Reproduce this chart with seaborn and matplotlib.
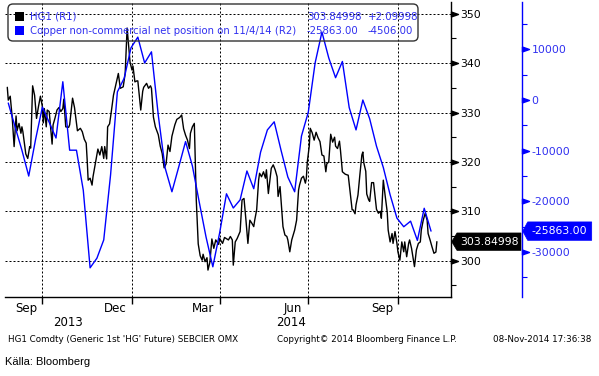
import numpy as np
import pandas as pd
import matplotlib
matplotlib.use("Agg")
import matplotlib.pyplot as plt
import matplotlib.dates as mdates
import seaborn as sns
from matplotlib.path import Path
from matplotlib.markers import MarkerStyle
from matplotlib.patches import FancyBboxPatch, Polygon, Rectangle
from matplotlib.ticker import FixedLocator, FixedFormatter, NullFormatter
from matplotlib.transforms import blended_transform_factory, ScaledTranslation

sns.set_theme(style="white")
plt.rcParams["font.family"] = ["DejaVu Sans"]
plt.rcParams["axes.unicode_minus"] = False

# ---------------- data ----------------
hg1_start = "2013-08-26"
hg1_day = [0, 1, 3, 5, 7, 9, 10, 12, 14, 15,
           16, 19, 21, 23, 24, 26, 28, 30, 32, 34,
           36, 37, 38, 40, 41, 43, 46, 47, 49, 51,
           53, 55, 57, 58, 60, 63, 64, 67, 69, 72,
           75, 77, 79, 81, 82, 83, 85, 87, 88, 92,
           93, 95, 97, 99, 100, 102, 103, 105, 107, 109,
           112, 114, 116, 119, 121, 123, 126, 128, 129, 131,
           133, 134, 137, 139, 140, 143, 145, 147, 148, 150,
           152, 155, 157, 159, 161, 163, 165, 167, 169, 172,
           174, 177, 179, 181, 183, 185, 187, 188, 190, 192,
           193, 194, 196, 198, 200, 201, 203, 205, 206, 208,
           210, 212, 214, 217, 218, 221, 223, 227, 229, 231,
           232, 234, 236, 239, 241, 243, 245, 247, 249, 251,
           253, 254, 256, 258, 259, 261, 263, 265, 266, 268,
           270, 271, 273, 275, 277, 278, 280, 282, 283, 285,
           287, 288, 290, 292, 294, 295, 297, 299, 300, 302,
           304, 306, 307, 308, 310, 311, 313, 315, 317, 319,
           321, 323, 325, 327, 328, 330, 332, 334, 336, 337,
           339, 341, 342, 344, 347, 350, 352, 354, 355, 357,
           358, 360, 362, 364, 365, 366, 368, 369, 371, 372,
           374, 376, 379, 381, 383, 384, 386, 388, 390, 391,
           393, 395, 396, 398, 400, 401, 403, 405, 407, 408,
           410, 412, 413, 415, 417, 418, 420, 422, 424, 425,
           427, 429, 431, 432, 434, 436, 438, 440, 441]
hg1_price = [335.1, 332.5, 333.3, 329.1, 323.1, 329.3, 326.3, 327.8, 325.8, 327.1,
             326.1, 321.6, 320.7, 323.1, 322.8, 335.4, 333.5, 328.8, 331.2, 333.3,
             331.2, 327.9, 330.8, 327.1, 330.5, 330.2, 323.6, 327.5, 328.9, 330.5,
             331.0, 330.2, 330.8, 332.7, 327.1, 327.0, 327.5, 332.9, 331.0, 326.3,
             326.8, 326.1, 324.6, 323.8, 320.4, 316.3, 316.7, 315.3, 317.0, 321.4,
             322.6, 321.4, 323.1, 320.7, 323.1, 320.6, 327.1, 327.7, 330.5, 333.5,
             336.2, 337.9, 334.9, 335.2, 337.9, 347.1, 340.2, 338.6, 339.4, 336.2,
             336.4, 336.4, 330.5, 334.3, 335.1, 335.9, 334.9, 335.4, 334.9, 329.1,
             327.1, 325.5, 323.2, 321.7, 318.8, 319.6, 323.4, 322.1, 325.2, 327.5,
             328.6, 329.0, 329.5, 326.7, 325.4, 324.4, 322.7, 325.8, 327.1, 327.8,
             320.0, 312.3, 303.4, 301.0, 300.1, 301.3, 299.8, 300.6, 298.1, 299.7,
             304.4, 302.5, 304.2, 303.3, 304.5, 303.5, 304.7, 304.2, 304.9, 304.2,
             299.1, 303.8, 304.5, 305.9, 312.3, 312.6, 308.2, 303.5, 308.2, 307.6,
             306.9, 308.2, 310.3, 316.3, 317.7, 317.0, 318.0, 316.7, 318.4, 313.6,
             317.0, 318.7, 319.4, 318.4, 317.0, 313.0, 315.0, 309.6, 306.9, 305.2,
             304.9, 304.2, 301.8, 304.2, 305.5, 306.2, 308.2, 314.3, 315.3, 316.7,
             317.1, 315.7, 316.7, 320.0, 323.2, 326.8, 325.9, 324.4, 326.0, 324.9,
             324.1, 321.4, 321.2, 318.0, 319.6, 320.0, 325.6, 324.0, 325.0, 323.2,
             322.7, 324.2, 322.4, 318.0, 317.5, 317.3, 313.7, 310.3, 310.3, 309.5,
             311.3, 313.3, 317.5, 321.4, 322.0, 319.8, 318.1, 313.5, 312.3, 312.0,
             315.8, 315.8, 310.4, 309.6, 310.0, 308.6, 316.3, 313.0, 309.9, 306.2,
             303.8, 305.5, 303.5, 305.9, 303.5, 301.8, 300.1, 303.8, 301.8, 303.8,
             300.8, 303.5, 304.2, 302.5, 300.1, 298.8, 302.2, 303.5, 303.8, 306.2,
             308.2, 309.6, 308.2, 305.5, 304.2, 302.8, 301.5, 301.75, 303.84998]

cot_start = "2013-08-27"   # weekly (Tuesdays)
cot_net = [-600, -5300, -9900, -15000, -7800, -1400, -4400, -7500, 3600, -9900,
           -9900, -17800, -33100, -31200, -27600, -14800, 1600, 4300, 10300, 12400,
           7300, 9500, -3000, -13400, -18100, -13200, -8200, -13000, -20100, -27000,
           -32900, -26200, -18500, -21300, -19700, -14000, -17500, -10300, -5900, -4300,
           -9900, -15200, -18100, -7100, -2400, 7300, 13400, 8300, 4400, 7600,
           -1500, -5900, 0, -3700, -9100, -13300, -18700, -23300, -25000, -23900,
           -27700, -21357, -25863]

price_ticks = [300, 310, 320, 330, 340, 350]
price_minor = [295, 305, 315, 325, 335, 345]
net_ticks = [-30000, -20000, -10000, 0, 10000]
net_minor = [-35000, -25000, -15000, -5000, 5000, 15000]
quarter_ticks = ["2013-10-01", "2014-01-01", "2014-04-01", "2014-07-01", "2014-10-01"]
month_pos = ["2013-09-15", "2013-12-15", "2014-03-15", "2014-06-15", "2014-09-15"]
month_labels = ["Sep", "Dec", "Mar", "Jun", "Sep"]
year_labels = ["2013", "2014"]

legend_names = ["HG1 (R1)", "Copper non-commercial net position on 11/4/14 (R2)"]
legend_last = ["303.84998", "-25863.00"]
legend_chg = ["+2.09998", "-4506.00"]
tag_labels = ["303.84998", "-25863.00"]

# ---------------- frames ----------------
start = pd.Timestamp(hg1_start)
hg1 = pd.DataFrame({"date": start + pd.to_timedelta(hg1_day, unit="D"),
                    "price": hg1_price})
cot = pd.DataFrame({"date": pd.date_range(cot_start, periods=len(cot_net), freq="7D"),
                    "net": cot_net})

W, H = 599, 376
fig = plt.figure(figsize=(W / 100, H / 100), dpi=100)
fig.patch.set_facecolor("white")
Lp, Rp, Tp, Bp = 5, 451, 2, 296.7
ax = fig.add_axes([Lp / W, 1 - Bp / H, (Rp - Lp) / W, (Bp - Tp) / H])
ax2 = ax.twinx()

BLUE = "#0000ff"
TXTBLUE = "#3030f0"

sns.lineplot(data=hg1, x="date", y="price", ax=ax, color="black", lw=1.0)
sns.lineplot(data=cot, x="date", y="net", ax=ax2, color=BLUE, lw=1.0)

x0 = mdates.date2num(start)
ax.set_xlim(x0 - 2.36, x0 + 455.5)
ax.set_ylim(292.71, 352.37)
ax2.set_ylim(-38797, 19329)
for a in (ax, ax2):
    a.set_xlabel("")
    a.set_ylabel("")

# spines
ax.spines["left"].set_visible(False)
ax.spines["top"].set_visible(False)
ax.spines["bottom"].set_color("black")
ax.spines["right"].set_color("black")
ax.spines["bottom"].set_linewidth(1.0)
ax.spines["right"].set_linewidth(1.0)
for s in ("left", "top", "bottom"):
    ax2.spines[s].set_visible(False)
blue_ax_x = (521.7 - Lp) / (Rp - Lp)
ax2.spines["right"].set_position(("axes", blue_ax_x))
ax2.spines["right"].set_color(BLUE)
ax2.spines["right"].set_linewidth(1.0)

# price axis
ax.yaxis.tick_right()
ax.set_yticks(price_ticks)
ax.set_yticks(price_minor, minor=True)
ax.tick_params(axis="y", which="major", length=0, pad=6.5, labelsize=7.8,
               labelcolor="black", left=False, right=True)
ax.tick_params(axis="y", which="minor", length=3.5, width=0.8, color="black",
               direction="out", left=False, right=True)

# net position axis
ax2.set_yticks(net_ticks)
ax2.set_yticks(net_minor, minor=True)
ax2.tick_params(axis="y", which="major", length=0, pad=7.2, labelsize=7.8,
                labelcolor=TXTBLUE)
ax2.tick_params(axis="y", which="minor", length=3.5, width=0.8, color=BLUE,
                direction="out")

# x axis
ax.xaxis.set_major_locator(FixedLocator(mdates.date2num(pd.to_datetime(quarter_ticks))))
ax.xaxis.set_major_formatter(NullFormatter())
ax.xaxis.set_minor_locator(FixedLocator(mdates.date2num(pd.to_datetime(month_pos))))
ax.xaxis.set_minor_formatter(FixedFormatter(month_labels))
ax.tick_params(axis="x", which="major", length=5, width=1.0, color="black",
               direction="out", bottom=True)
ax.tick_params(axis="x", which="minor", length=0, pad=3.5, labelsize=8.5,
               labelcolor="black", bottom=True)

# grid
ax.grid(True, which="major", axis="both", color="black", lw=0.72,
        linestyle=(0, (2, 2)))
ax2.grid(False)

# year labels centred over visible part of each year
lo, hi = ax.get_xlim()
ny = mdates.date2num(pd.Timestamp("2014-01-01"))
ytr = blended_transform_factory(ax.transData, ax.transAxes)
yy = -(323 - Bp) / (Bp - Tp)
ax.text((lo + ny) / 2, yy, year_labels[0], transform=ytr, ha="center", va="center",
        fontsize=8.5, color="black")
ax.text((ny + hi) / 2, yy, year_labels[1], transform=ytr, ha="center", va="center",
        fontsize=8.5, color="black")

# triangle markers at major ticks
tri = MarkerStyle(Path([(0, -0.35), (1, 0), (0, 0.35), (0, -0.35)],
                       [Path.MOVETO, Path.LINETO, Path.LINETO, Path.CLOSEPOLY]))
ax.plot([1.0] * len(price_ticks), price_ticks, ls="none", marker=tri, ms=10,
        color="black", transform=blended_transform_factory(ax.transAxes, ax.transData),
        clip_on=False)
ax2.plot([blue_ax_x] * len(net_ticks), net_ticks, ls="none", marker=tri, ms=10,
         color=BLUE, transform=blended_transform_factory(ax2.transAxes, ax2.transData),
         clip_on=False)

# value tags
def tag(axis, xa, val, text, fc, tip, half):
    base = blended_transform_factory(axis.transAxes, axis.transData)
    tr = fig.dpi_scale_trans + ScaledTranslation(xa, val, base)
    verts = np.array([(tip, 0), (6, half), (70, half), (70, -half), (6, -half)]) / 100.0
    poly = Polygon(verts, closed=True, transform=tr, fc=fc, ec=fc, lw=0.5,
                   clip_on=False, zorder=10)
    axis.add_patch(poly)
    axis.text(38 / 100.0, 0, text, transform=tr, ha="center", va="center",
              color="white", fontsize=7.8, zorder=11, clip_on=False)

tag(ax, 1.0, hg1_price[-1], tag_labels[0], "black", 0.7, 8.7)
tag(ax2, blue_ax_x, cot_net[-1], tag_labels[1], BLUE, 1.0, 9.2)

# legend box
inch = fig.dpi_scale_trans
def fy(py):
    return (H - py) / 100.0
box = FancyBboxPatch((8 / 100, fy(41)), 410 / 100, 37 / 100,
                     boxstyle="round,pad=0,rounding_size=0.05", transform=inch,
                     fc="none", ec="#333333", lw=1.0, zorder=5)
fig.add_artist(box)
for i, (col, yc) in enumerate([("black", 16.5), (BLUE, 30.5)]):
    fig.add_artist(Rectangle((15 / 100, fy(yc + 4.5)), 9 / 100, 9 / 100,
                             transform=inch, fc=col, ec=col, lw=0))
    fig.text(30 / W, 1 - yc / H, legend_names[i], color=TXTBLUE, fontsize=7.3,
             va="center", ha="left")
    fig.text(307 / W, 1 - yc / H, legend_last[i], color=TXTBLUE, fontsize=7.3,
             va="center", ha="left")
    fig.text(368 / W, 1 - yc / H, legend_chg[i], color=TXTBLUE, fontsize=7.3,
             va="center", ha="left")

# footer
fig.text(8 / W, 1 - 339 / H, "HG1 Comdty (Generic 1st 'HG' Future) SEBCIER OMX",
         fontsize=6.3, va="center", ha="left", color="black")
fig.text(277 / W, 1 - 339 / H, "Copyright\u00a9 2014 Bloomberg Finance L.P.",
         fontsize=6.3, va="center", ha="left", color="black")
fig.text(493 / W, 1 - 339 / H, "08-Nov-2014 17:36:38",
         fontsize=6.3, va="center", ha="left", color="black")
fig.text(5 / W, 1 - 362 / H, "K\u00e4lla: Bloomberg", fontsize=8,
         family=["Liberation Sans", "DejaVu Sans"], va="center", ha="left",
         color="black")

fig.savefig("out.png", dpi=100, facecolor="white")
